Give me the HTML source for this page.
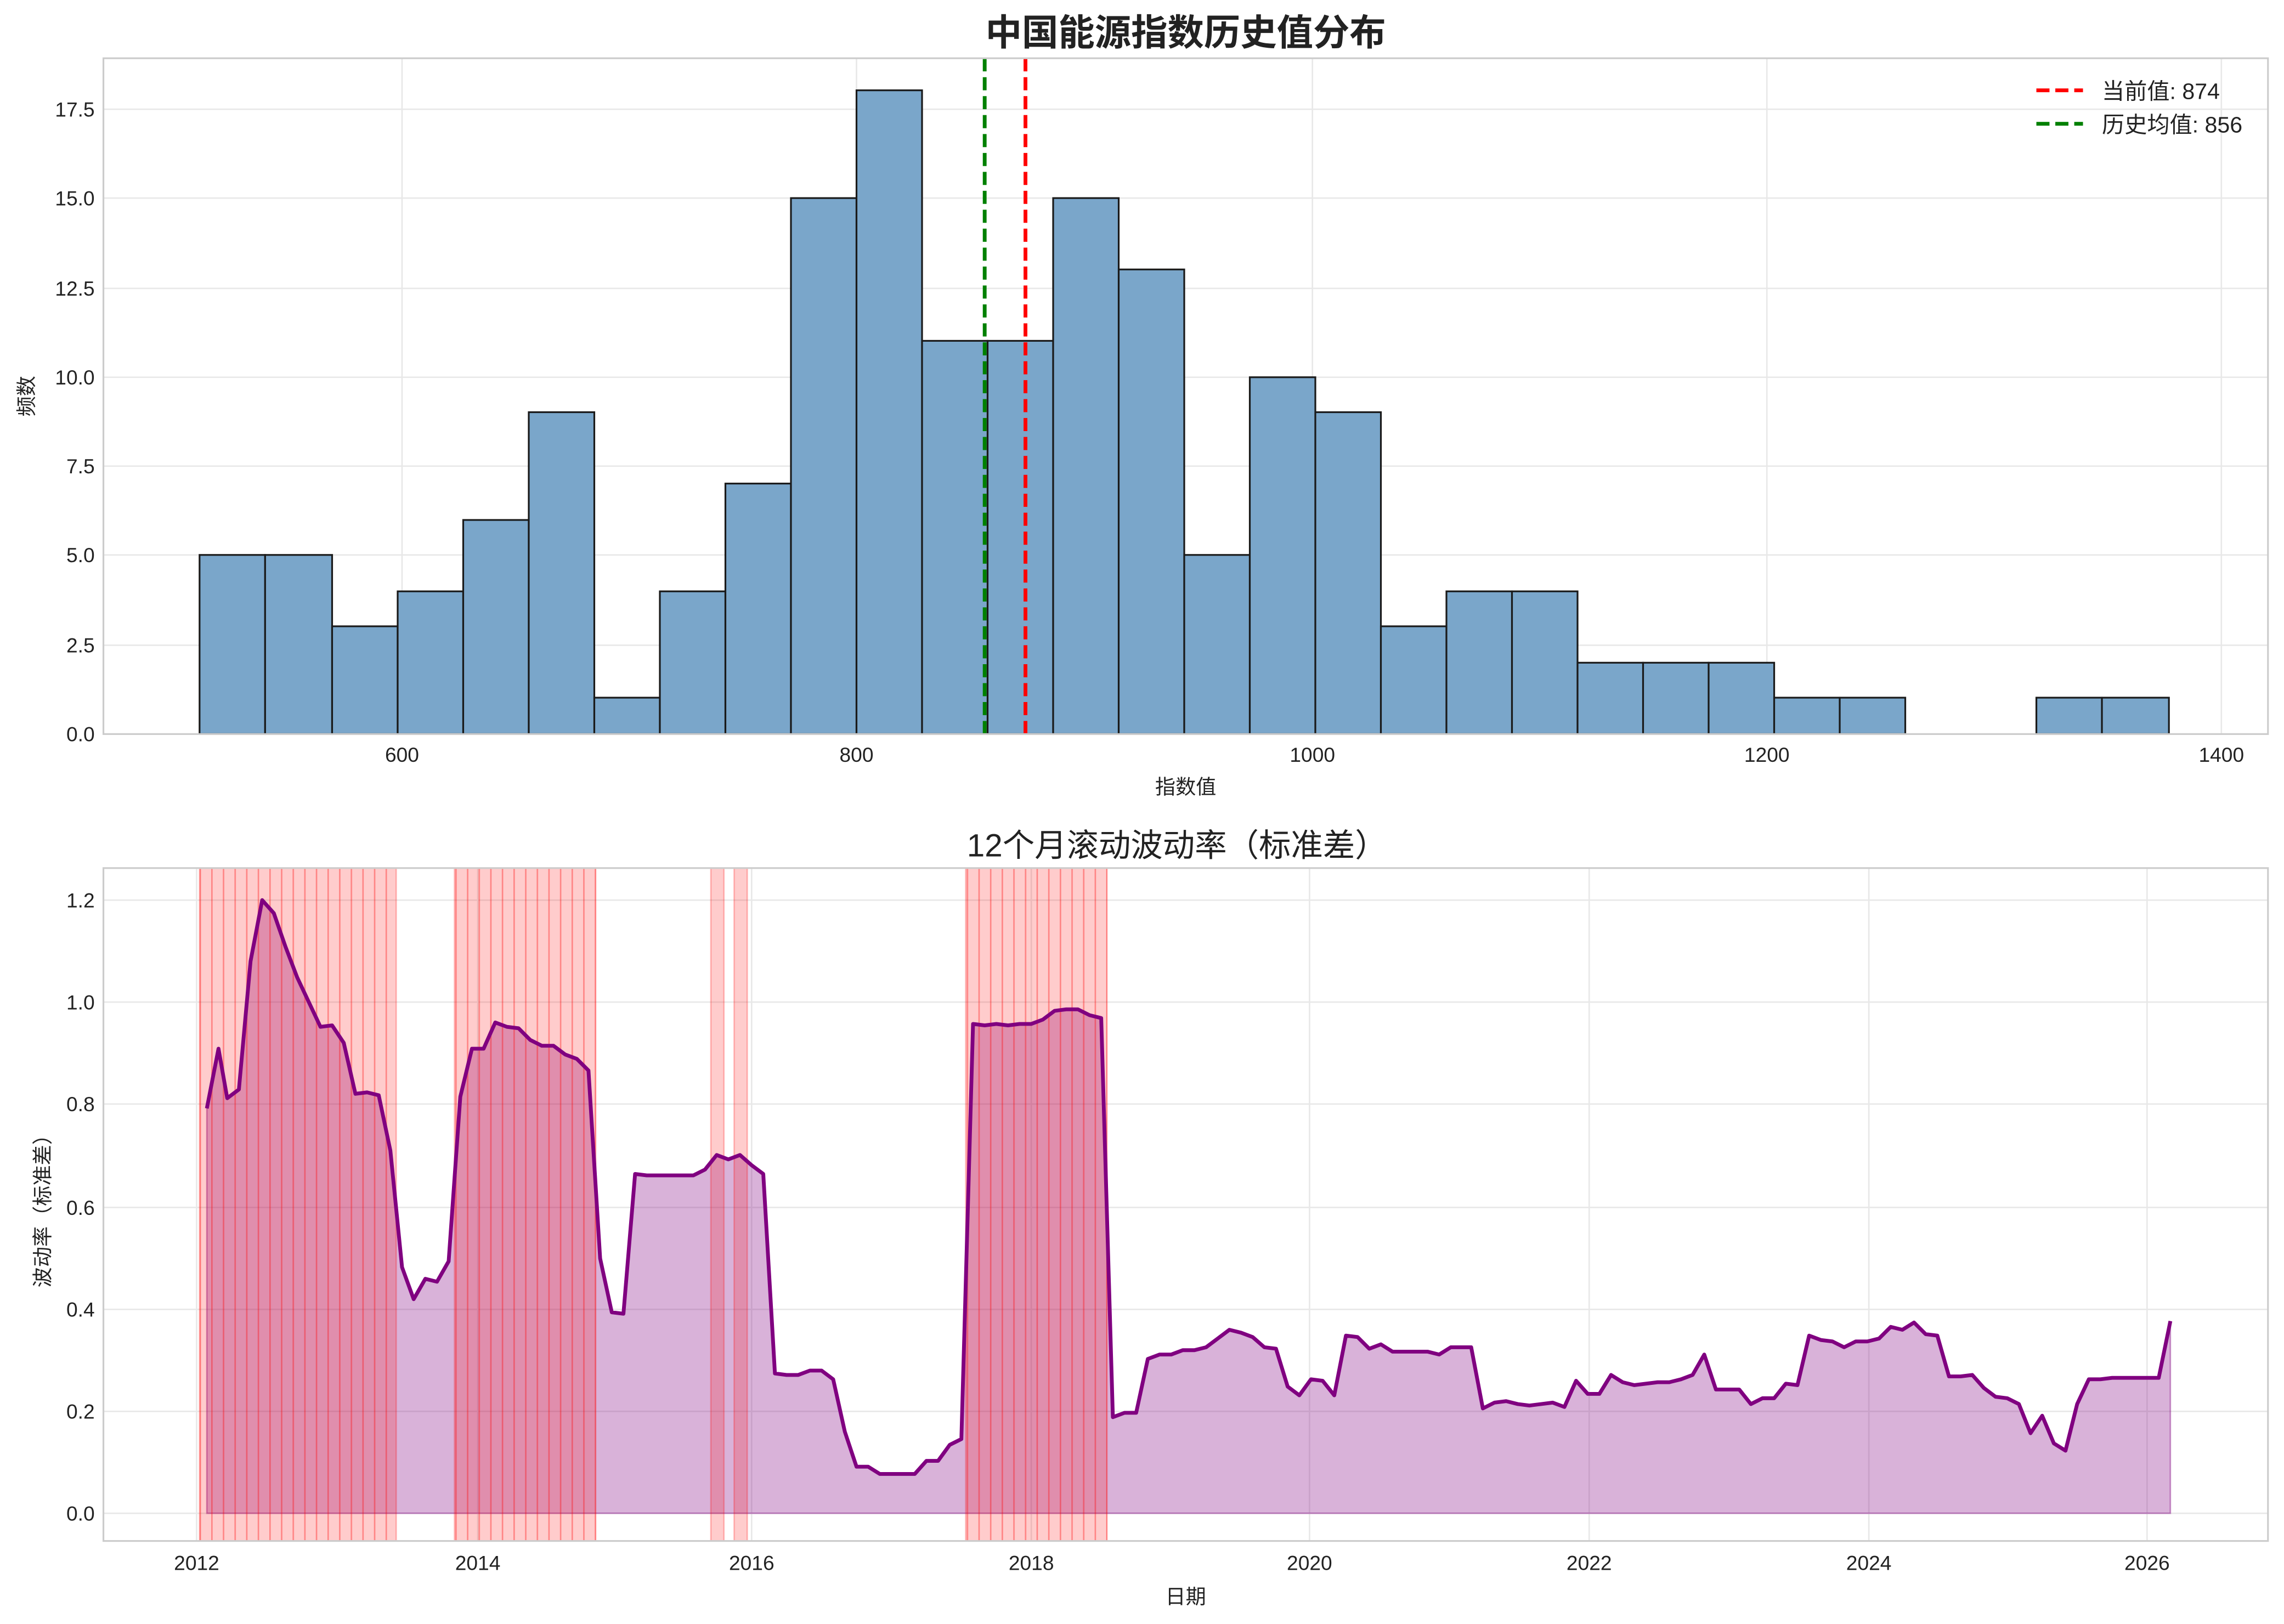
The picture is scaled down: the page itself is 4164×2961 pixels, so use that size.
<!DOCTYPE html>
<html><head><meta charset="utf-8"><style>html,body{margin:0;padding:0;background:#fff}svg{display:block}</style></head><body>
<svg xmlns="http://www.w3.org/2000/svg" width="4164" height="2961" viewBox="0 0 1568 1115" preserveAspectRatio="none" font-family="Liberation Sans, Noto Sans CJK SC, sans-serif">
<defs>
<pattern id="mlines" patternUnits="userSpaceOnUse" x="137" y="0" width="7.98" height="10"><line x1="0.5" y1="0" x2="0.5" y2="10" stroke="#ff0000" stroke-opacity="0.35" stroke-width="1"/></pattern>
</defs>
<rect width="1568" height="1115" fill="#fff"/>
<!-- TOP CHART -->
<text x="814" y="31" font-size="25" font-weight="bold" text-anchor="middle" fill="#222">中国能源指数历史值分布</text>
<g stroke="#e8e8e8" stroke-width="1">
<line x1="276" y1="40" x2="276" y2="504"/><line x1="588" y1="40" x2="588" y2="504"/><line x1="901" y1="40" x2="901" y2="504"/><line x1="1213" y1="40" x2="1213" y2="504"/><line x1="1525" y1="40" x2="1525" y2="504"/>
<line x1="71" y1="443" x2="1557" y2="443"/><line x1="71" y1="381" x2="1557" y2="381"/><line x1="71" y1="320" x2="1557" y2="320"/><line x1="71" y1="259" x2="1557" y2="259"/><line x1="71" y1="198" x2="1557" y2="198"/><line x1="71" y1="136" x2="1557" y2="136"/><line x1="71" y1="75" x2="1557" y2="75"/>
</g>
<g fill="#7aa6ca" stroke="#1a1a1a" stroke-width="1.2">
<rect x="137" y="381" width="45" height="123"/><rect x="182" y="381" width="46" height="123"/><rect x="228" y="430" width="45" height="74"/><rect x="273" y="406" width="45" height="98"/><rect x="318" y="357" width="45" height="147"/><rect x="363" y="283" width="45" height="221"/><rect x="408" y="479" width="45" height="25"/><rect x="453" y="406" width="45" height="98"/><rect x="498" y="332" width="45" height="172"/><rect x="543" y="136" width="45" height="368"/><rect x="588" y="62" width="45" height="442"/><rect x="633" y="234" width="45" height="270"/><rect x="678" y="234" width="45" height="270"/><rect x="723" y="136" width="45" height="368"/><rect x="768" y="185" width="45" height="319"/><rect x="813" y="381" width="45" height="123"/><rect x="858" y="259" width="45" height="245"/><rect x="903" y="283" width="45" height="221"/><rect x="948" y="430" width="45" height="74"/><rect x="993" y="406" width="45" height="98"/><rect x="1038" y="406" width="45" height="98"/><rect x="1083" y="455" width="45" height="49"/><rect x="1128" y="455" width="45" height="49"/><rect x="1173" y="455" width="45" height="49"/><rect x="1218" y="479" width="45" height="25"/><rect x="1263" y="479" width="45" height="25"/><rect x="1398" y="479" width="45" height="25"/><rect x="1443" y="479" width="46" height="25"/>
</g>
<line x1="704" y1="40" x2="704" y2="504" stroke="#ff0000" stroke-width="2.6" stroke-dasharray="9,4"/>
<line x1="676" y1="40" x2="676" y2="504" stroke="#008000" stroke-width="2.6" stroke-dasharray="9,4"/>
<rect x="71" y="40" width="1486" height="464" fill="none" stroke="#cccccc" stroke-width="1.2"/>
<g font-size="14" fill="#222" text-anchor="end">
<text x="65" y="509">0.0</text><text x="65" y="448">2.5</text><text x="65" y="386">5.0</text><text x="65" y="325">7.5</text><text x="65" y="264">10.0</text><text x="65" y="203">12.5</text><text x="65" y="141">15.0</text><text x="65" y="80">17.5</text>
</g>
<g font-size="14" fill="#222" text-anchor="middle">
<text x="276" y="523">600</text><text x="588" y="523">800</text><text x="901" y="523">1000</text><text x="1213" y="523">1200</text><text x="1525" y="523">1400</text>
<text x="814" y="545">指数值</text>
</g>
<text transform="translate(23,272) rotate(-90)" font-size="14" fill="#222" text-anchor="middle">频数</text>
<line x1="1398" y1="62" x2="1430" y2="62" stroke="#ff0000" stroke-width="2.6" stroke-dasharray="9,4"/>
<line x1="1398" y1="85" x2="1430" y2="85" stroke="#008000" stroke-width="2.6" stroke-dasharray="9,4"/>
<text x="1443" y="68" font-size="15.5" fill="#222">当前值: 874</text>
<text x="1443" y="91" font-size="15.5" fill="#222">历史均值: 856</text>

<!-- BOTTOM CHART -->
<text x="808" y="588" font-size="22" text-anchor="middle" fill="#222">12个月滚动波动率（标准差）</text>
<g stroke="#e8e8e8" stroke-width="1">
<line x1="135" y1="596" x2="135" y2="1058"/><line x1="328" y1="596" x2="328" y2="1058"/><line x1="516" y1="596" x2="516" y2="1058"/><line x1="708" y1="596" x2="708" y2="1058"/><line x1="899" y1="596" x2="899" y2="1058"/><line x1="1091" y1="596" x2="1091" y2="1058"/><line x1="1283" y1="596" x2="1283" y2="1058"/><line x1="1474" y1="596" x2="1474" y2="1058"/>
<line x1="71" y1="1039" x2="1557" y2="1039"/><line x1="71" y1="969" x2="1557" y2="969"/><line x1="71" y1="899" x2="1557" y2="899"/><line x1="71" y1="829" x2="1557" y2="829"/><line x1="71" y1="758" x2="1557" y2="758"/><line x1="71" y1="688" x2="1557" y2="688"/><line x1="71" y1="618" x2="1557" y2="618"/>
</g>
<path fill="#800080" fill-opacity="0.3" stroke="#800080" stroke-opacity="0.4" stroke-width="1" d="M142,1039 L142,761 L150,720 L156,754 L164,748 L172,660 L180,618 L188,627 L196,650 L204,671 L212,688 L220,705 L228,704 L236,716 L244,751 L252,750 L260,752 L268,790 L276,870 L284,892 L292,878 L300,880 L308,866 L316,753 L324,720 L332,720 L340,702 L348,705 L356,706 L364,714 L372,718 L380,718 L388,724 L396,727 L404,735 L412,864 L420,901 L428,902 L436,806 L444,807 L476,807 L484,803 L492,793 L500,796 L508,793 L516,800 L524,806 L532,943 L540,944 L548,944 L556,941 L564,941 L572,947 L580,983 L588,1007 L596,1007 L604,1012 L628,1012 L636,1003 L644,1003 L652,992 L660,988 L668,703 L676,704 L684,703 L692,704 L700,703 L708,703 L716,700 L724,694 L732,693 L740,693 L748,697 L756,699 L764,973 L772,970 L780,970 L788,933 L796,930 L804,930 L812,927 L820,927 L828,925 L836,919 L844,913 L852,915 L860,918 L868,925 L876,926 L884,952 L892,958 L900,947 L908,948 L916,958 L924,917 L932,918 L940,926 L948,923 L956,928 L980,928 L988,930 L996,925 L1010,925 L1018,967 L1026,963 L1034,962 L1042,964 L1050,965 L1058,964 L1066,963 L1074,966 L1082,948 L1090,957 L1098,957 L1106,944 L1114,949 L1122,951 L1138,949 L1146,949 L1154,947 L1162,944 L1170,930 L1178,954 L1194,954 L1202,964 L1210,960 L1218,960 L1226,950 L1234,951 L1242,917 L1250,920 L1258,921 L1266,925 L1274,921 L1282,921 L1290,919 L1298,911 L1306,913 L1314,908 L1322,916 L1330,917 L1338,945 L1346,945 L1354,944 L1362,953 L1370,959 L1378,960 L1386,964 L1394,984 L1402,972 L1410,991 L1418,996 L1426,964 L1434,947 L1442,947 L1450,946 L1482,946 L1490,907 L1490,1039 Z"/>
<g fill="#ff0000" fill-opacity="0.2" stroke="#ff0000" stroke-opacity="0.25">
<rect x="137" y="596" width="135" height="462"/><rect x="312" y="596" width="97" height="462"/><rect x="488" y="596" width="9" height="462"/><rect x="504" y="596" width="9" height="462"/><rect x="663" y="596" width="97" height="462"/>
</g>
<g fill="url(#mlines)">
<rect x="137" y="596" width="135" height="462"/><rect x="312" y="596" width="97" height="462"/><rect x="663" y="596" width="97" height="462"/>
</g>
<path fill="none" stroke="#800080" stroke-width="2.6" stroke-linejoin="round" d="M142,761 L150,720 L156,754 L164,748 L172,660 L180,618 L188,627 L196,650 L204,671 L212,688 L220,705 L228,704 L236,716 L244,751 L252,750 L260,752 L268,790 L276,870 L284,892 L292,878 L300,880 L308,866 L316,753 L324,720 L332,720 L340,702 L348,705 L356,706 L364,714 L372,718 L380,718 L388,724 L396,727 L404,735 L412,864 L420,901 L428,902 L436,806 L444,807 L476,807 L484,803 L492,793 L500,796 L508,793 L516,800 L524,806 L532,943 L540,944 L548,944 L556,941 L564,941 L572,947 L580,983 L588,1007 L596,1007 L604,1012 L628,1012 L636,1003 L644,1003 L652,992 L660,988 L668,703 L676,704 L684,703 L692,704 L700,703 L708,703 L716,700 L724,694 L732,693 L740,693 L748,697 L756,699 L764,973 L772,970 L780,970 L788,933 L796,930 L804,930 L812,927 L820,927 L828,925 L836,919 L844,913 L852,915 L860,918 L868,925 L876,926 L884,952 L892,958 L900,947 L908,948 L916,958 L924,917 L932,918 L940,926 L948,923 L956,928 L980,928 L988,930 L996,925 L1010,925 L1018,967 L1026,963 L1034,962 L1042,964 L1050,965 L1058,964 L1066,963 L1074,966 L1082,948 L1090,957 L1098,957 L1106,944 L1114,949 L1122,951 L1138,949 L1146,949 L1154,947 L1162,944 L1170,930 L1178,954 L1194,954 L1202,964 L1210,960 L1218,960 L1226,950 L1234,951 L1242,917 L1250,920 L1258,921 L1266,925 L1274,921 L1282,921 L1290,919 L1298,911 L1306,913 L1314,908 L1322,916 L1330,917 L1338,945 L1346,945 L1354,944 L1362,953 L1370,959 L1378,960 L1386,964 L1394,984 L1402,972 L1410,991 L1418,996 L1426,964 L1434,947 L1442,947 L1450,946 L1482,946 L1490,907"/>
<rect x="71" y="596" width="1486" height="462" fill="none" stroke="#cccccc" stroke-width="1.2"/>
<g font-size="14" fill="#222" text-anchor="end">
<text x="65" y="1044">0.0</text><text x="65" y="974">0.2</text><text x="65" y="904">0.4</text><text x="65" y="834">0.6</text><text x="65" y="763">0.8</text><text x="65" y="693">1.0</text><text x="65" y="623">1.2</text>
</g>
<g font-size="14" fill="#222" text-anchor="middle">
<text x="135" y="1078">2012</text><text x="328" y="1078">2014</text><text x="516" y="1078">2016</text><text x="708" y="1078">2018</text><text x="899" y="1078">2020</text><text x="1091" y="1078">2022</text><text x="1283" y="1078">2024</text><text x="1474" y="1078">2026</text>
<text x="814" y="1101">日期</text>
</g>
<text transform="translate(34,828) rotate(-90)" font-size="14" fill="#222" text-anchor="middle">波动率（标准差）</text>
</svg>
</body></html>
